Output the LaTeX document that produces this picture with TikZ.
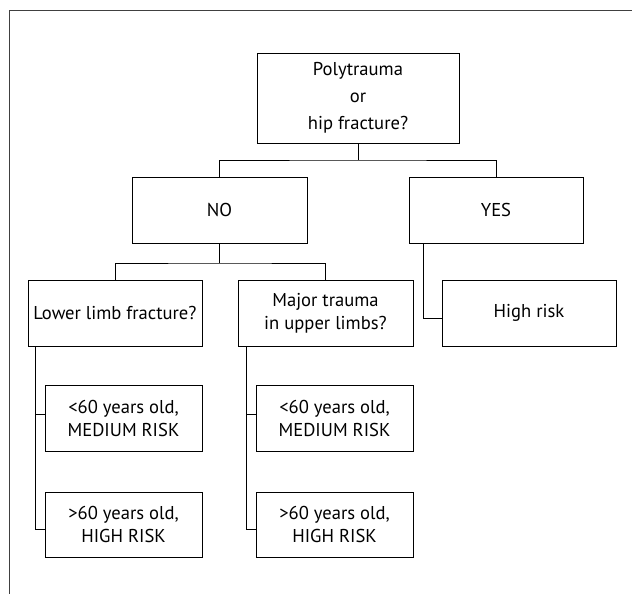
\documentclass[tikz,border=0pt]{standalone}
\usepackage{fontspec}
\setmainfont{PT Sans}
\usetikzlibrary{positioning}

\tikzset{
  box/.style={draw, line width=0.9pt, align=center, inner sep=0pt,
    minimum width=174pt, minimum height=66pt,
    font=\fontsize{18.6}{23}\selectfont},
  small/.style={box, minimum width=157pt},
  link/.style={line width=0.9pt},
  frame/.style={line width=0.9pt, black!75}
}

\begin{document}
\begin{tikzpicture}[x=1pt,y=-1pt]
      \useasboundingbox (0,0) rectangle (632,594);
      % Set up the frame round the chart
      \draw[frame] (632,10) -| (9,594);
      \node[box, minimum width=202pt, minimum height=90pt,
        font=\fontsize{18.6}{27}\selectfont] (poly) at (358,98)
        {Polytrauma\\or\\hip fracture?};
      \node[box, minimum width=175pt] (no) at (219.5,210) {NO};
      \node[box] (yes) at (496,210) {YES};
      \node[box] (lower) at (115,313) {Lower limb fracture?};
      \node[box, minimum width=175pt] (major) at (325.5,313)
        {Major trauma\\in upper limbs?};
      \node[box] (high) at (529,313) {High risk};
      \node[small] (lmed) at (123.5,418) {<60 years old,\\MEDIUM RISK};
      \node[small, minimum height=65pt] (lhigh) at (123.5,524.5)
        {>60 years old,\\HIGH RISK};
      \node[small] (umed) at (334.5,418) {<60 years old,\\MEDIUM RISK};
      \node[small, minimum height=65pt] (uhigh) at (334.5,524.5)
        {>60 years old,\\HIGH RISK};
      \coordinate (j1) at (358,160);
      \coordinate (j2) at (219.5,263);
      % Connectors
      \draw[link] (poly.south) -- (j1);
      \draw[link] (no.north) |- (j1) -| (yes.north);
      \draw[link] (no.south) -- (j2);
      \draw[link] (lower.north) |- (j2) -| (major.north);
      \draw[link] ([xshift=-73pt]yes.south) |- ([yshift=-5pt]high.west);
      \draw[link] ([xshift=8pt]lower.south west) |- ([yshift=4pt]lmed.west);
      \draw[link] ([xshift=8pt]lower.south west) |- ([yshift=-4.5pt]lhigh.west);
      \draw[link] ([xshift=9pt]major.south west) |- ([yshift=4pt]umed.west);
      \draw[link] ([xshift=9pt]major.south west) |- ([yshift=-4.5pt]uhigh.west);
    \end{tikzpicture}
\end{document}
